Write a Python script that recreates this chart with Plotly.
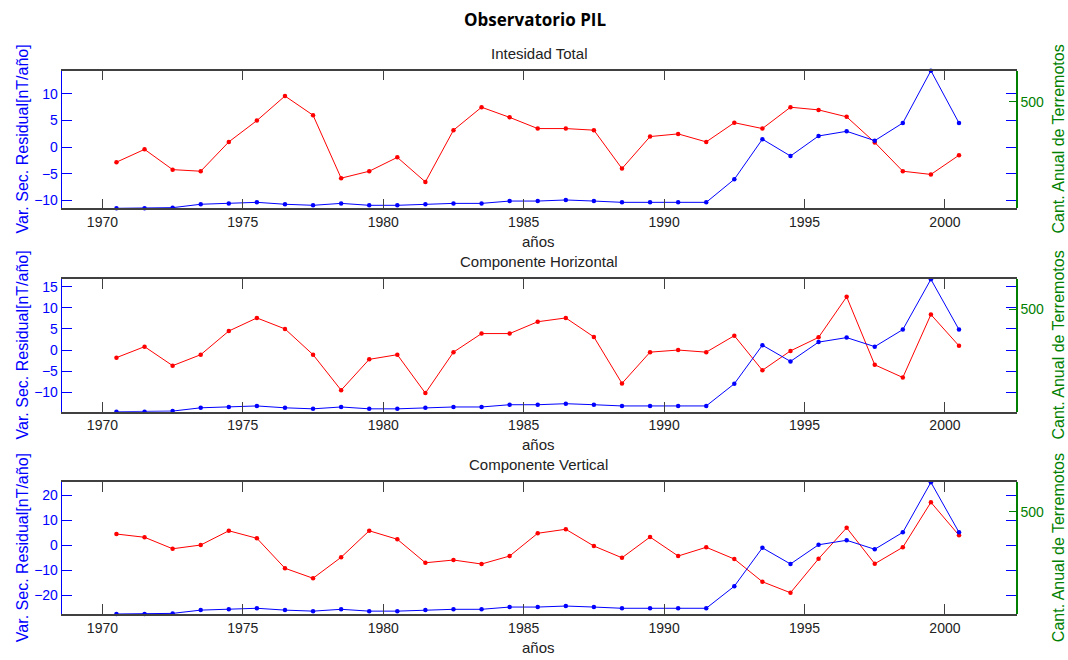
import plotly.graph_objects as go

# Years (mid-year samples)
years = [1970.5 + i for i in range(31)]

# Residual secular variation [nT/año] for each component
intensidad_total = [-2.8, -0.4, -4.2, -4.5, 1.0, 5.0, 9.6, 6.0, -5.8, -4.5,
                    -1.9, -6.5, 3.2, 7.5, 5.6, 3.5, 3.5, 3.2, -4.0, 2.0,
                    2.5, 1.0, 4.6, 3.5, 7.5, 7.0, 5.7, 0.9, -4.5, -5.1, -1.5]
comp_horizontal = [-1.8, 0.8, -3.7, -1.1, 4.5, 7.6, 5.0, -1.1, -9.5, -2.2,
                   -1.1, -10.2, -0.5, 3.9, 3.9, 6.7, 7.6, 3.1, -7.9, -0.5,
                   0.0, -0.5, 3.4, -4.8, -0.2, 3.0, 12.6, -3.5, -6.5, 8.4, 1.0]
comp_vertical = [4.4, 3.1, -1.5, 0.0, 5.7, 2.7, -9.3, -13.3, -4.9, 5.7,
                 2.3, -7.1, -6.0, -7.6, -4.4, 4.7, 6.3, -0.4, -5.1, 3.2,
                 -4.4, -0.9, -5.6, -14.7, -19.1, -5.5, 6.9, -7.5, -0.9, 17.1, 3.9]

# Annual earthquake count
terremotos = [0, 0, 3, 19, 23, 28, 19, 14, 23, 14,
              14, 19, 23, 23, 34, 34, 39, 34, 28, 28,
              28, 28, 136, 324, 245, 339, 361, 317, 400, 645, 400]

panel_titles = ["Intesidad Total", "Componente Horizontal", "Componente Vertical"]
residuals = [intensidad_total, comp_horizontal, comp_vertical]
left_ranges = [[-11.45, 14.35], [-14.6, 16.75], [-27.6, 25.1]]
left_ticks = [[-10, -5, 0, 5, 10], [-10, -5, 0, 5, 10, 15], [-20, -10, 0, 10, 20]]
count_range = [0, 645]
count_ticks = [500]
year_ticks = [1970, 1975, 1980, 1985, 1990, 1995, 2000]
x_range = [1968.55, 2002.53]

W, H = 1068, 660
x_dom = [61.7 / W, 1016 / W]
# panel (top, bottom) in pixels
panel_px = [(70.7, 208.3), (279.3, 411.7), (482.3, 614.0)]

BLUE = "#0000FF"
RED = "#FF0000"
GREEN = "#008000"
AXC = "#404040"
FONT = "Arial, Liberation Sans, sans-serif"

fig = go.Figure()
layout = dict(
    width=W, height=H,
    margin=dict(l=0, r=0, t=0, b=0),
    paper_bgcolor="white", plot_bgcolor="white",
    showlegend=False,
    font=dict(family=FONT, size=14, color="#222222"),
)


def label(text, x, y, size, color, angle=0, family=FONT):
    return dict(text=text, x=x, y=y, xref="paper", yref="paper",
                xanchor="center", yanchor="middle", showarrow=False,
                textangle=angle, font=dict(family=family, size=size, color=color))


annotations = []
for i in range(3):
    xa = "x" if i == 0 else f"x{i + 1}"
    yl = "y" if i == 0 else f"y{2 * i + 1}"
    yr = f"y{2 * i + 2}"
    top, bot = panel_px[i]
    y_dom = [1 - bot / H, 1 - top / H]

    fig.add_trace(go.Scatter(
        x=years, y=residuals[i], xaxis=xa, yaxis=yl, mode="lines+markers",
        line=dict(color=RED, width=1), marker=dict(color=RED, size=4.5),
        cliponaxis=False))
    fig.add_trace(go.Scatter(
        x=years, y=terremotos, xaxis=xa, yaxis=yr, mode="lines+markers",
        line=dict(color=BLUE, width=1), marker=dict(color=BLUE, size=4.5),
        cliponaxis=False))

    xkey = "xaxis" if i == 0 else f"xaxis{i + 1}"
    ylkey = "yaxis" if i == 0 else f"yaxis{2 * i + 1}"
    yrkey = f"yaxis{2 * i + 2}"

    layout[xkey] = dict(
        domain=x_dom, anchor=yl, range=x_range,
        tickmode="array", tickvals=year_ticks,
        ticks="inside", ticklen=10, tickcolor=AXC, tickwidth=1,
        showline=True, linecolor=AXC, linewidth=1.5, mirror="ticks",
        showgrid=False, zeroline=False,
        tickfont=dict(family=FONT, size=14, color="#222222"),
    )
    layout[ylkey] = dict(
        domain=y_dom, anchor=xa, range=left_ranges[i],
        tickmode="array", tickvals=left_ticks[i],
        ticks="inside", ticklen=10, tickcolor=BLUE, tickwidth=1,
        showline=True, linecolor=BLUE, linewidth=1, mirror="ticks",
        showgrid=False, zeroline=False,
        tickfont=dict(family=FONT, size=14, color=BLUE),
    )
    layout[yrkey] = dict(
        overlaying=yl, side="right", anchor=xa, range=count_range,
        tickmode="array", tickvals=count_ticks,
        ticks="inside", ticklen=7, tickcolor=GREEN, tickwidth=1,
        showline=True, linecolor=GREEN, linewidth=1.5,
        showgrid=False, zeroline=False,
        tickfont=dict(family=FONT, size=14, color=GREEN),
    )

    mid = 1 - (top + bot) / 2 / H
    annotations += [
        label(panel_titles[i], 0.5046, 1 - (top - 17.5) / H, 15, "#222222"),
        label("años", 0.5046, 1 - (bot + 33) / H, 15, "#222222"),
        label("Var. Sec. Residual[nT/año]", 22 / W, mid, 16, BLUE, -90),
        label("Cant. Anual de Terremotos", 1058 / W, mid, 16, GREEN, -90),
    ]

annotations.append(label("<b>Observatorio PIL</b>", 535 / W, 1 - 20 / H, 17,
                         "black", family="Open Sans, sans-serif"))

layout["annotations"] = annotations
fig.update_layout(**layout)
fig.write_html("out.html")
